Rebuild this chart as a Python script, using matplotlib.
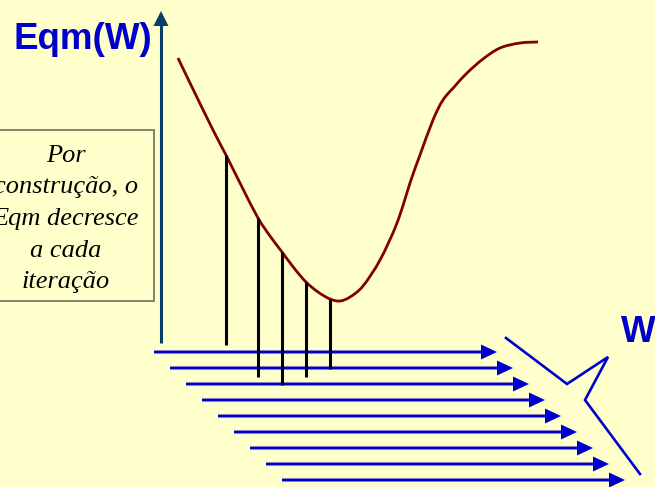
import matplotlib
matplotlib.use("Agg")
import matplotlib.pyplot as plt
from matplotlib.patches import FancyArrow, Rectangle, Polygon, PathPatch
from matplotlib.path import Path

BG = "#FFFFCC"
BLUE = "#0000CC"
AXIS = "#0B3D6B"
CURVE = "#800000"

# error curve Eqm(W), in canvas pixels (y grows downward)
curve_x = [178, 190, 213, 226, 242, 258, 270, 282, 294, 306, 318, 330, 340,
           350, 363, 380, 397, 411, 420, 433, 443, 455, 467, 483, 500, 520, 538]
curve_y = [58, 83, 130, 155, 187, 218, 236, 252, 268, 282, 292, 299, 301,
           297, 286, 260, 223, 180, 155, 120, 100, 86, 73, 59, 48, 43, 42]

# one vertical drop per iteration, from the curve down to its weight vector
iter_x = [226, 258, 282, 306, 330]
iter_top = [155, 218, 252, 282, 299]
iter_bottom = [345, 377, 385, 377, 369]

# stacked weight vectors
vec_x0 = [154, 170, 186, 202, 218, 234, 250, 266, 282]
vec_x1 = [497, 513, 529, 545, 561, 577, 593, 609, 625]
vec_y = [352, 368, 384, 400, 416, 432, 448, 464, 480]

# broken W axis
w_break_x = [506, 567, 608, 585, 640]
w_break_y = [338, 384, 357, 400, 474]

box_lines = ["Por", "construção, o", "Eqm decresce", "a cada", "iteração"]
box_baselines = [162, 193, 225, 257, 288]


def smooth_path(xs, ys):
    # Catmull-Rom through the points, written as cubic Bezier segments
    pts = list(zip(xs, ys))
    verts = [pts[0]]
    codes = [Path.MOVETO]
    for i in range(len(pts) - 1):
        p0 = pts[max(i - 1, 0)]
        p1 = pts[i]
        p2 = pts[i + 1]
        p3 = pts[min(i + 2, len(pts) - 1)]
        c1 = (p1[0] + (p2[0] - p0[0]) / 6, p1[1] + (p2[1] - p0[1]) / 6)
        c2 = (p2[0] - (p3[0] - p1[0]) / 6, p2[1] - (p3[1] - p1[1]) / 6)
        verts += [c1, c2, p2]
        codes += [Path.CURVE4] * 3
    return Path(verts, codes)


fig = plt.figure(figsize=(6.55, 4.87), dpi=100, facecolor=BG)
ax = fig.add_axes([0, 0, 1, 1])
ax.set_facecolor(BG)
ax.set_xlim(0, 655)
ax.set_ylim(487, 0)
ax.axis("off")

# vertical axis with arrow head
ax.plot([161, 161], [343, 24], color=AXIS, lw=2.2, solid_capstyle="butt")
ax.add_patch(Polygon([[153.5, 26], [168.5, 26], [161, 11]], closed=True,
                     color=AXIS, lw=0))

ax.text(14, 49, "Eqm(W)", color=BLUE, fontsize=26.5, fontweight="bold",
        family="Liberation Sans", ha="left", va="baseline")
ax.text(621, 342, "W", color=BLUE, fontsize=26.5, fontweight="bold",
        family="Liberation Sans", ha="left", va="baseline")

# annotation box
ax.add_patch(Rectangle((-6, 130), 160, 171, facecolor=BG,
                       edgecolor="#7A7A66", lw=1.3))
for line, yb in zip(box_lines, box_baselines):
    ax.text(66, yb, line, fontsize=19, style="italic",
            family="Liberation Serif", ha="center", va="baseline")

# weight vectors
for x0, x1, y in zip(vec_x0, vec_x1, vec_y):
    ax.add_patch(FancyArrow(x0, y, x1 - x0, 0, width=3, head_width=15,
                            head_length=16, length_includes_head=True,
                            color=BLUE, lw=0))

ax.plot(w_break_x, w_break_y, color=BLUE, lw=1.9, solid_joinstyle="miter")

ax.add_patch(PathPatch(smooth_path(curve_x, curve_y), facecolor="none",
                       edgecolor=CURVE, lw=2.0, capstyle="butt"))

for x, yt, yb in zip(iter_x, iter_top, iter_bottom):
    ax.plot([x, x], [yt, yb], color="black", lw=2.2, solid_capstyle="butt")

fig.savefig("out.png", dpi=100, facecolor=BG)
